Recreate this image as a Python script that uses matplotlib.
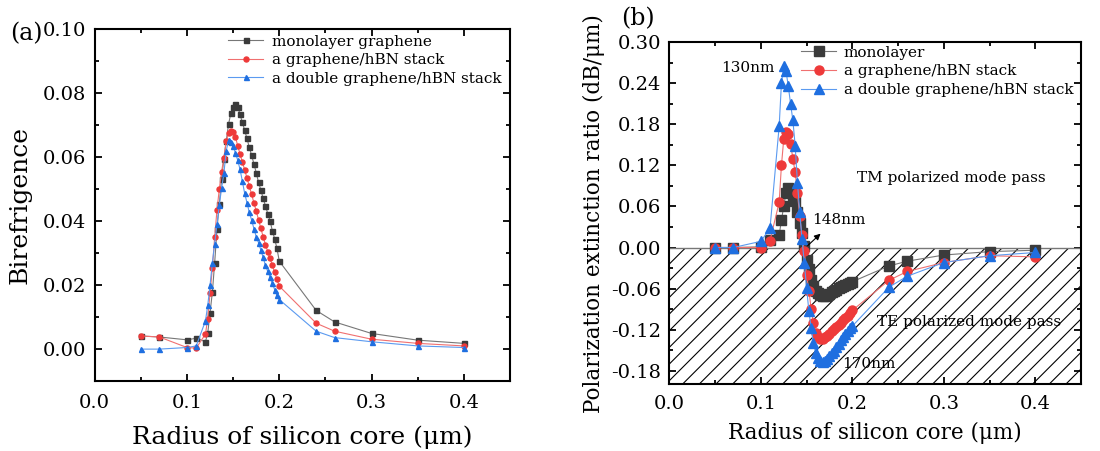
import matplotlib
matplotlib.use('Agg')
import matplotlib.pyplot as plt
from matplotlib.ticker import MultipleLocator, FormatStrFormatter

plt.rcParams['font.family'] = ['DejaVu Serif']
plt.rcParams['hatch.linewidth'] = 0.8
plt.rcParams['axes.unicode_minus'] = True

# ---- shared radius grid (um) ----
r_low = [0.05, 0.07, 0.10, 0.11]
r_mid = [0.1200, 0.1225, 0.1250, 0.1275, 0.1300, 0.1325, 0.1350, 0.1375,
         0.1400, 0.1425, 0.1450, 0.1475, 0.1500, 0.1525, 0.1550, 0.1575,
         0.1600, 0.1625, 0.1650, 0.1675, 0.1700, 0.1725, 0.1750, 0.1775,
         0.1800, 0.1825, 0.1850, 0.1875, 0.1900, 0.1925, 0.1950, 0.1975,
         0.2000]
r_high = [0.24, 0.26, 0.30, 0.35, 0.40]
radius = r_low + r_mid + r_high

# ---- (a) birefringence ----
biref_mono = [0.0041, 0.0038, 0.0029, 0.0034,
              0.0023, 0.0050, 0.0114, 0.0178, 0.0270, 0.0375, 0.0455, 0.0532,
              0.0596, 0.0650, 0.0703, 0.0737, 0.0757, 0.0765, 0.0758, 0.0734,
              0.0709, 0.0684, 0.0659, 0.0631, 0.0606, 0.0580, 0.0552, 0.0522,
              0.0498, 0.0472, 0.0448, 0.0424, 0.0402, 0.0370, 0.0345, 0.0315,
              0.0275,
              0.0121, 0.0085, 0.0049, 0.0028, 0.0018]
biref_hbn = [0.0041, 0.0038, 0.0005, 0.0003,
             0.0047, 0.0095, 0.0175, 0.0253, 0.0350, 0.0435, 0.0500, 0.0555,
             0.0598, 0.0650, 0.0675, 0.0682, 0.0678, 0.0664, 0.0635, 0.0610,
             0.0585, 0.0561, 0.0535, 0.0510, 0.0484, 0.0458, 0.0432, 0.0405,
             0.0378, 0.0352, 0.0327, 0.0305, 0.0284, 0.0262, 0.0240, 0.0218,
             0.0197,
             0.0081, 0.0056, 0.0031, 0.0018, 0.0010]
biref_double = [0.0000, 0.0000, 0.0005, 0.0010,
                0.0088, 0.0137, 0.0200, 0.0270, 0.0330, 0.0390, 0.0450, 0.0503,
                0.0550, 0.0620, 0.0653, 0.0648, 0.0636, 0.0614, 0.0590, 0.0562,
                0.0525, 0.0487, 0.0458, 0.0428, 0.0404, 0.0377, 0.0352, 0.0333,
                0.0310, 0.0287, 0.0262, 0.0243, 0.0226, 0.0206, 0.0186, 0.0168,
                0.0155,
                0.0056, 0.0036, 0.0023, 0.0010, 0.0005]

# ---- (b) polarization extinction ratio (dB/um) ----
per_mono = [0.000, 0.000, 0.001, 0.011,
            0.018, 0.040, 0.060, 0.080, 0.087, 0.084, 0.077, 0.068,
            0.052, 0.036, 0.021, 0.002, -0.019, -0.032, -0.047, -0.057,
            -0.064, -0.067, -0.070, -0.071, -0.0703, -0.0693, -0.0675, -0.0655,
            -0.0635, -0.0615, -0.0593, -0.0575, -0.0560, -0.0545, -0.0530, -0.0515,
            -0.050,
            -0.027, -0.020, -0.011, -0.006, -0.004]
per_hbn = [0.000, 0.000, 0.000, 0.010,
           0.066, 0.120, 0.158, 0.169, 0.166, 0.152, 0.130, 0.110,
           0.080, 0.046, 0.018, -0.005, -0.040, -0.063, -0.090, -0.110,
           -0.125, -0.131, -0.134, -0.1335, -0.131, -0.129, -0.126, -0.1225,
           -0.1195, -0.1165, -0.1135, -0.110, -0.1065, -0.103, -0.0995, -0.096,
           -0.092,
           -0.048, -0.035, -0.022, -0.012, -0.0137]
per_double = [0.000, 0.000, 0.009, 0.028,
              0.177, 0.240, 0.266, 0.258, 0.236, 0.210, 0.186, 0.149,
              0.095, 0.052, 0.012, -0.022, -0.059, -0.093, -0.118, -0.140,
              -0.155, -0.162, -0.166, -0.167, -0.1655, -0.163, -0.158, -0.1545,
              -0.151, -0.145, -0.141, -0.135, -0.131, -0.126, -0.122, -0.118,
              -0.115,
              -0.058, -0.042, -0.022, -0.012, -0.0073]

c_black = '#3b3b3b'
c_red = '#ee3a3a'
c_blue = '#1f6fe0'
line_colors = ['#777777', '#f07070', '#5b9af0']

fig = plt.figure(figsize=(11, 4.51), dpi=100)
ax1 = fig.add_axes([0.0861, 0.155, 0.3775, 0.780])
ax2 = fig.add_axes([0.6085, 0.148, 0.3743, 0.758])


def style_axes(ax, xpad):
    for sp in ax.spines.values():
        sp.set_linewidth(1.5)
    ax.tick_params(which='both', direction='in', top=True, right=True,
                   width=1.3, labelsize=14)
    ax.tick_params(axis='x', pad=xpad)
    ax.tick_params(axis='y', pad=6)
    ax.tick_params(which='major', length=5)
    ax.tick_params(which='minor', length=3)


# (a)
for y, col, lc, mk, lab in [
        (biref_mono, c_black, line_colors[0], 's', 'monolayer graphene'),
        (biref_hbn, c_red, line_colors[1], 'o', 'a graphene/hBN stack'),
        (biref_double, c_blue, line_colors[2], '^', 'a double graphene/hBN stack')]:
    ax1.plot(radius, y, color=lc, lw=0.8, marker=mk, ms=3.6, mfc=col,
             mec=col, label=lab)
ax1.set_xlim(0, 0.45)
ax1.set_ylim(-0.01, 0.10)
ax1.xaxis.set_major_locator(MultipleLocator(0.1))
ax1.xaxis.set_minor_locator(MultipleLocator(0.05))
ax1.yaxis.set_major_locator(MultipleLocator(0.02))
ax1.yaxis.set_minor_locator(MultipleLocator(0.01))
ax1.xaxis.set_major_formatter(FormatStrFormatter('%.1f'))
ax1.yaxis.set_major_formatter(FormatStrFormatter('%.2f'))
style_axes(ax1, 9)
ax1.set_xlabel('Radius of silicon core (μm)', fontsize=18, labelpad=10)
ax1.set_ylabel('Birefrigence', fontsize=18, labelpad=8)
ax1.legend(loc='upper left', bbox_to_anchor=(0.321, 0.985), frameon=False,
           fontsize=11, handlelength=2.3, handletextpad=0.6,
           labelspacing=0.3, borderpad=0, borderaxespad=0)
fig.text(0.009, 0.91, '(a)', fontsize=17)

# (b)
ax2.fill_between([0, 0.45], -0.2, 0, facecolor='none', edgecolor='black',
                 hatch='//', linewidth=0, zorder=1.5)
ax2.axhline(0, color='#777777', lw=1.0, zorder=1.6)
for y, col, lc, mk, lab in [
        (per_mono, c_black, line_colors[0], 's', 'monolayer'),
        (per_hbn, c_red, line_colors[1], 'o', 'a graphene/hBN stack'),
        (per_double, c_blue, line_colors[2], '^', 'a double graphene/hBN stack')]:
    ax2.plot(radius, y, color=lc, lw=0.8, marker=mk, ms=6.5, mfc=col,
             mec=col, label=lab, zorder=3)
ax2.set_xlim(0, 0.45)
ax2.set_ylim(-0.2, 0.30)
ax2.xaxis.set_major_locator(MultipleLocator(0.1))
ax2.xaxis.set_minor_locator(MultipleLocator(0.05))
ax2.yaxis.set_major_locator(MultipleLocator(0.06))
ax2.yaxis.set_minor_locator(MultipleLocator(0.03))
ax2.xaxis.set_major_formatter(FormatStrFormatter('%.1f'))
ax2.yaxis.set_major_formatter(FormatStrFormatter('%.2f'))
style_axes(ax2, 8)
ax2.set_xlabel('Radius of silicon core (μm)', fontsize=15.5, labelpad=6)
ax2.set_ylabel('Polarization extinction ratio (dB/μm)', fontsize=15.5, labelpad=4)
ax2.legend(loc='upper left', bbox_to_anchor=(0.320, 0.99), frameon=False,
           fontsize=11, handlelength=2.3, handletextpad=0.5,
           labelspacing=0.3, borderpad=0, borderaxespad=0)

ax2.text(0.115, 0.262, '130nm', fontsize=11, ha='right', va='center', zorder=4)
ax2.text(0.185, 0.040, '148nm', fontsize=11, ha='center', va='center', zorder=4)
ax2.annotate('', xy=(0.1675, 0.023), xytext=(0.149, 0.0),
             arrowprops=dict(arrowstyle='-|>', color='black', lw=0.8,
                             mutation_scale=9), zorder=4)
ax2.text(0.308, 0.102, 'TM polarized mode pass', fontsize=11, ha='center',
         va='center', zorder=4)
ax2.text(0.328, -0.109, 'TE polarized mode pass', fontsize=11, ha='center',
         va='center', zorder=1)
ax2.text(0.2177, -0.170, '170nm', fontsize=11, ha='center', va='center', zorder=1)
fig.text(0.565, 0.945, '(b)', fontsize=17)

fig.savefig('out.png', dpi=100)
